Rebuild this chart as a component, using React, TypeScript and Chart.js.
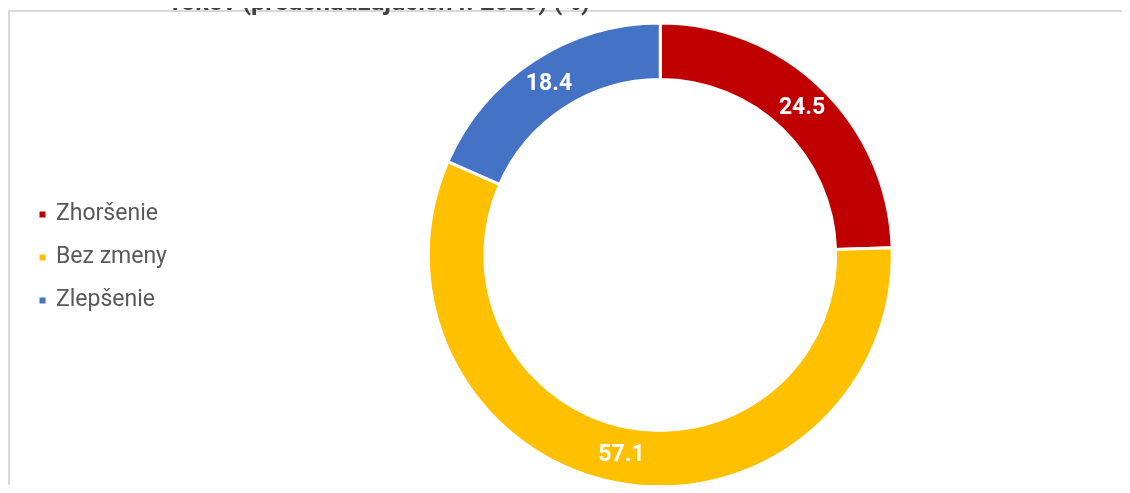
import React, { useEffect, useRef } from "react";
import { Chart, registerables } from "chart.js";

Chart.register(...registerables);

const titleText = "rokov (predchádzajúcich r. 2020) (%)";
const categories = ["Zhoršenie", "Bez zmeny", "Zlepšenie"];
const values = [24.5, 57.1, 18.4];
const colors = ["#C00000", "#FFC000", "#4472C4"];

const LEGEND_W = 170;

const legendWidthPlugin = {
  id: "legendWidth",
  beforeInit(chart: any) {
    const legend = chart.legend;
    if (!legend) return;
    const orig = legend.fit;
    legend.fit = function () {
      orig.call(this);
      this.width = LEGEND_W;
    };
  },
};

const framePlugin = {
  id: "frameAndTitle",
  beforeDraw(chart: any) {
    const ctx = chart.ctx;
    ctx.save();
    ctx.fillStyle = "#D9D9D9";
    ctx.fillRect(8, 10, 2, chart.height - 10);
    ctx.fillRect(8, 10, chart.width - 8, 2);
    ctx.restore();
  },
  afterDraw(chart: any) {
    const ctx = chart.ctx;
    ctx.save();
    ctx.font = "bold 24px Roboto";
    const w = ctx.measureText(titleText).width || 1;
    ctx.translate(172, 10);
    ctx.scale(418 / w, 1);
    ctx.fillStyle = "#404040";
    ctx.textAlign = "left";
    ctx.textBaseline = "alphabetic";
    ctx.fillText(titleText, 0, 0);
    ctx.restore();
  },
};

const valueLabelsPlugin = {
  id: "valueLabels",
  afterDatasetsDraw(chart: any) {
    const ctx = chart.ctx;
    const meta = chart.getDatasetMeta(0);
    ctx.save();
    ctx.fillStyle = "#FFFFFF";
    ctx.font = "bold 23px Roboto";
    ctx.textAlign = "center";
    ctx.textBaseline = "middle";
    meta.data.forEach((arc: any, i: number) => {
      const p = arc.tooltipPosition(false);
      ctx.fillText(String(values[i]), p.x, p.y);
    });
    ctx.restore();
  },
};

export default function App() {
  const ref = useRef<HTMLCanvasElement | null>(null);

  useEffect(() => {
    if (!ref.current) return;
    const chart = new Chart(ref.current, {
      type: "doughnut",
      data: {
        labels: categories,
        datasets: [
          {
            data: values,
            backgroundColor: colors,
            borderColor: "#FFFFFF",
            borderWidth: 3,
          },
        ],
      },
      options: {
        responsive: false,
        animation: false,
        cutout: "75.6%",
        layout: { padding: { left: 20.5, right: 0, top: 21.5, bottom: 4.5 } },
        plugins: {
          legend: {
            position: "left",
            title: {
              display: true,
              text: "",
              padding: 0,
              font: { size: 4, lineHeight: 1.25 },
            },
            labels: {
              usePointStyle: true,
              pointStyle: "rect",
              boxWidth: 4,
              boxHeight: 9,
              padding: 20,
              color: "#595959",
              font: { family: "Roboto", size: 23 },
            },
          },
          tooltip: { enabled: false },
        },
      },
      plugins: [legendWidthPlugin, framePlugin, valueLabelsPlugin],
    });
    return () => chart.destroy();
  }, []);

  return (
    <div
      style={{
        position: "relative",
        width: 1130,
        height: 493,
        margin: -8,
        overflow: "hidden",
        background: "#FFFFFF",
      }}
    >
      <canvas
        ref={ref}
        width={1130}
        height={493}
        style={{ position: "absolute", left: 0, top: 0 }}
      />
    </div>
  );
}
